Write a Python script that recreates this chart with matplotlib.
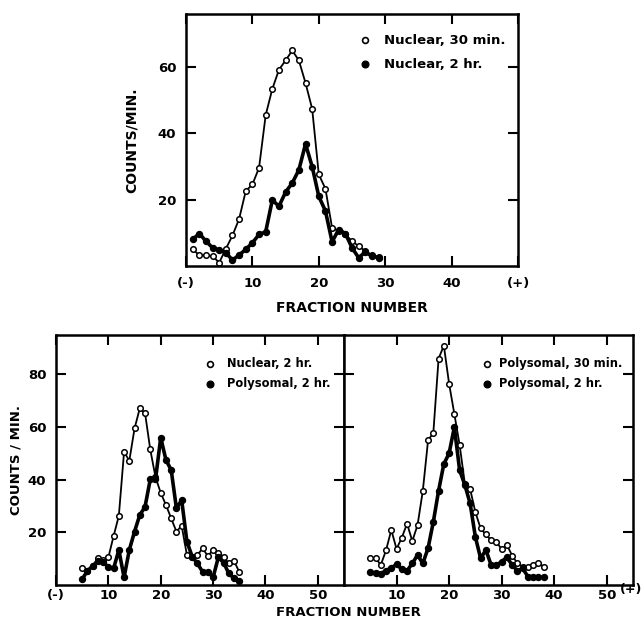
import matplotlib
matplotlib.use("Agg")
import matplotlib.pyplot as plt

plt.rcParams['font.family'] = ['DejaVu Sans']
plt.rcParams['font.weight'] = 'bold'

# ---------------- data ----------------
top_frac = list(range(1, 30))
nuclear_30min = [5, 3.3, 3.2, 3, 1, 5.2, 9.2, 14.2, 22.6, 24.6, 29.6, 45.5, 53.4, 59.2, 62,
                 65, 62, 55.2, 47.4, 27.6, 23.3, 11.5, 10.5, 9.5, 7.5, 6, 4.5, 3.2, 2.8]
nuclear_2hr_top = [8, 9.8, 7.5, 5.5, 4.8, 4, 1.8, 3.3, 5, 7, 9.5, 10.3, 19.9, 18, 22.3,
                   25, 29, 36.8, 30, 21, 16.6, 7.3, 11, 9.8, 5.5, 2.5, 4.2, 3, 2.5]

left_frac = list(range(5, 36))
nuclear_2hr = [6.3, 5.4, 7.2, 10.1, 9.5, 10.5, 18.6, 26.3, 50.6, 47.2, 59.5, 67.1, 65.4,
               51.5, 41, 35, 30.4, 25.3, 20.3, 22.5, 11.4, 10.8, 11.4, 13.9, 11, 13.3,
               12, 10.8, 8.2, 9.1, 5]
polysomal_2hr_left = [2.2, 5.4, 7.2, 9.2, 8.9, 6.7, 6.3, 13.3, 2.9, 13.3, 20.3, 26.6, 29.7,
                      40.1, 40.1, 56, 47.5, 43.7, 29.1, 32.3, 16.5, 10.8, 8.2, 5, 5, 2.9,
                      10.5, 8.5, 4.4, 2.5, 1.6]

right_frac = list(range(5, 39))
polysomal_30min = [10.1, 10.3, 7.6, 13.2, 20.9, 13.7, 18, 23.3, 16.7, 22.8, 35.8, 55, 57.8,
                   86, 91, 76.5, 65, 53.3, 38.5, 36.5, 27.7, 21.5, 19.2, 17, 16.4, 13.6,
                   15.2, 11.2, 8.2, 7, 6.7, 7.7, 8.3, 7]
polysomal_2hr = [4.8, 4.6, 4.3, 5.5, 6.5, 7.8, 6, 5.4, 8.2, 11.4, 8.2, 14, 24, 35.8, 46,
                 50, 60, 43.7, 38, 31, 18.3, 10.1, 13.3, 7.6, 7.5, 8.9, 10.5, 7.6, 5.4,
                 6.3, 3.2, 3.2, 2.9, 2.9]

top_xticklabels = ['(-)', '10', '20', '30', '40', '(+)']
left_xticklabels = ['(-)', '10', '20', '30', '40', '50']
right_xticklabels = ['10', '20', '30', '40', '50']

# ---------------- figure ----------------
W, H = 643, 620
fig = plt.figure(figsize=(W / 100, H / 100), dpi=100)

def rect(x0, y0, x1, y1):
    return [x0 / W, 1 - y1 / H, (x1 - x0) / W, (y1 - y0) / H]

FS = 9.5
LFS = 8.3
open_kw = dict(color='black', lw=1.3, marker='o', ms=4.0, mfc='white', mec='black', mew=1.1)
fill_kw = dict(color='black', lw=2.6, marker='o', ms=4.3, mfc='black', mec='black')
open_m = dict(ls='none', marker='o', ms=4.2, mfc='white', mec='black', mew=1.2)
fill_m = dict(ls='none', marker='o', ms=4.8, mfc='black', mec='black')

def style(ax, xpad=7):
    for s in ax.spines.values():
        s.set_linewidth(1.8)
    ax.tick_params(direction='in', length=7, width=1.5, labelsize=FS, pad=7)
    ax.tick_params(axis='x', pad=xpad)
    for lab in ax.get_xticklabels() + ax.get_yticklabels():
        lab.set_fontweight('bold')

# ---- top panel ----
ax = fig.add_axes(rect(186, 14, 518, 266))
ax.plot(top_frac, nuclear_30min, **open_kw)
ax.plot(top_frac, nuclear_2hr_top, **fill_kw)
ax.set_xlim(0, 50)
ax.set_ylim(0, 76)
ax.set_xticks([0, 10, 20, 30, 40, 50])
ax.set_xticklabels(top_xticklabels)
ax.set_yticks([20, 40, 60])
ax.tick_params(top=True, right=True)
style(ax, xpad=8)
ax.set_ylabel('COUNTS/MIN.', fontsize=FS + 0.5, fontweight='bold', labelpad=14)
ax.set_xlabel('FRACTION NUMBER', fontsize=FS + 0.5, fontweight='bold', labelpad=8)
ax.plot([0.54], [0.895], transform=ax.transAxes, **open_m)
ax.plot([0.54], [0.80], transform=ax.transAxes, **fill_m)
ax.text(0.595, 0.895, 'Nuclear, 30 min.', transform=ax.transAxes, fontsize=FS, fontweight='bold', va='center')
ax.text(0.595, 0.80, 'Nuclear, 2 hr.', transform=ax.transAxes, fontsize=FS, fontweight='bold', va='center')

# ---- bottom left ----
axl = fig.add_axes(rect(56, 335, 344, 585))
axl.plot(left_frac, nuclear_2hr, **open_kw)
axl.plot(left_frac, polysomal_2hr_left, **fill_kw)
axl.set_xlim(0, 55)
axl.set_ylim(0, 95)
axl.set_xticks([0, 10, 20, 30, 40, 50])
axl.set_xticklabels(left_xticklabels)
axl.set_yticks([20, 40, 60, 80])
axl.tick_params(top=True, right=True)
style(axl, xpad=3)
axl.set_ylabel('COUNTS / MIN.', fontsize=FS, fontweight='bold', labelpad=4)
lx = 0.535
axl.plot([lx], [0.885], transform=axl.transAxes, **open_m)
axl.plot([lx], [0.805], transform=axl.transAxes, **fill_m)
axl.text(lx + 0.06, 0.885, 'Nuclear, 2 hr.', transform=axl.transAxes, fontsize=LFS, fontweight='bold', va='center')
axl.text(lx + 0.06, 0.805, 'Polysomal, 2 hr.', transform=axl.transAxes, fontsize=LFS, fontweight='bold', va='center')

# ---- bottom right ----
axr = fig.add_axes(rect(344, 335, 633, 585))
axr.plot(right_frac, polysomal_30min, **open_kw)
axr.plot(right_frac, polysomal_2hr, **fill_kw)
axr.set_xlim(0, 55)
axr.set_ylim(0, 95)
axr.set_xticks([10, 20, 30, 40, 50])
axr.set_xticklabels(right_xticklabels)
axr.set_yticks([20, 40, 60, 80])
axr.tick_params(top=True, right=True, labelleft=False)
style(axr, xpad=3)
rx = 0.495
axr.plot([rx], [0.885], transform=axr.transAxes, **open_m)
axr.plot([rx], [0.805], transform=axr.transAxes, **fill_m)
axr.text(rx + 0.04, 0.885, 'Polysomal, 30 min.', transform=axr.transAxes, fontsize=LFS, fontweight='bold', va='center')
axr.text(rx + 0.04, 0.805, 'Polysomal, 2 hr.', transform=axr.transAxes, fontsize=LFS, fontweight='bold', va='center')
fig.text(642 / W, 1 - 589 / H, '(+)', fontsize=FS - 0.5, fontweight='bold', ha='right', va='center')

fig.text(348 / W, 1 - 612 / H, 'FRACTION NUMBER', fontsize=FS, fontweight='bold', ha='center', va='center')

fig.savefig('out.png', dpi=100)
